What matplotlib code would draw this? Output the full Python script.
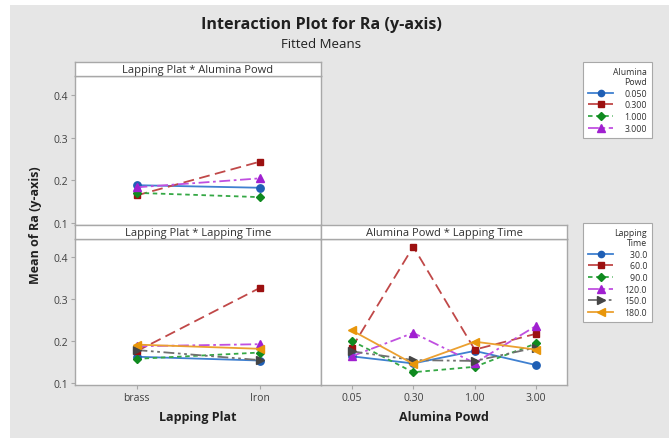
import matplotlib
matplotlib.use("Agg")
import matplotlib.pyplot as plt
from matplotlib.patches import Rectangle
from matplotlib.lines import Line2D

plt.rcParams['font.family'] = ['Open Sans', 'DejaVu Sans']

# ---------------- data ----------------
plat_levels = ["brass", "Iron"]
powd_levels = ["0.05", "0.30", "1.00", "3.00"]
powd_legend = ["0.050", "0.300", "1.000", "3.000"]
time_legend = ["30.0", "60.0", "90.0", "120.0", "150.0", "180.0"]

# Lapping Plat * Alumina Powd  (rows: powd 0.05, 0.3, 1, 3 ; cols: brass, Iron)
plat_powd = [
    [0.188, 0.182],
    [0.164, 0.243],
    [0.170, 0.160],
    [0.183, 0.204],
]
# Lapping Plat * Lapping Time  (rows: time 30..180 ; cols: brass, Iron)
plat_time = [
    [0.162, 0.153],
    [0.175, 0.326],
    [0.157, 0.172],
    [0.187, 0.192],
    [0.178, 0.154],
    [0.191, 0.181],
]
# Alumina Powd * Lapping Time (rows: time 30..180 ; cols: powd 0.05, 0.3, 1, 3)
powd_time = [
    [0.163, 0.146, 0.176, 0.142],
    [0.183, 0.425, 0.179, 0.217],
    [0.200, 0.125, 0.138, 0.194],
    [0.163, 0.219, 0.147, 0.236],
    [0.175, 0.154, 0.152, 0.184],
    [0.225, 0.145, 0.198, 0.179],
]

# ---------------- styles ----------------
mk_colors = ['#1f5fb5', '#9c1010', '#0f8a1f', '#a020d0', '#454545', '#e8960a']
ln_colors = ['#3f80d0', '#c04848', '#35a845', '#c050e0', '#707070', '#eba030']
markers = ['o', 's', 'D', '^', '>', '<']
msizes = [5.3, 5, 4.5, 6, 6, 6]
dashes = [None, (6, 3), (2.5, 2), (6, 2, 1.5, 2), (6, 2, 1.5, 2, 1.5, 2), None]

W, H = 669, 439
fig = plt.figure(figsize=(W / 100, H / 100), dpi=100)
fig.patch.set_facecolor('white')
fig.add_artist(Rectangle((10 / W, 0), 659 / W, 433 / H, transform=fig.transFigure,
                         facecolor='#e6e6e6', edgecolor='none', zorder=-10))

def fbox(x0, y0, x1, y1):
    return [x0 / W, 1 - y1 / H, (x1 - x0) / W, (y1 - y0) / H]

spine_c = '#a8a8a8'
txt_c = '#404040'

def style_ax(ax, left, bottom):
    ax.set_facecolor('white')
    for s in ax.spines.values():
        s.set_color(spine_c)
        s.set_linewidth(1.0)
    ax.set_ylim(0.0945, 0.4445)
    ax.set_yticks([0.1, 0.2, 0.3, 0.4])
    ax.tick_params(axis='both', colors=spine_c, labelcolor=txt_c, labelsize=7.5,
                   length=3, width=0.8, pad=2)
    if not left:
        ax.tick_params(axis='y', left=False, labelleft=False)
    if not bottom:
        ax.tick_params(axis='x', bottom=False, labelbottom=False)

def strip(x0, y0, x1, y1, text):
    sa = fig.add_axes(fbox(x0, y0, x1, y1))
    sa.set_facecolor('white')
    sa.set_xticks([]); sa.set_yticks([])
    for s in sa.spines.values():
        s.set_color(spine_c)
        s.set_linewidth(1.0)
    sa.text(0.5, 0.45, text, ha='center', va='center', fontsize=8, color='#303030',
            transform=sa.transAxes)

def draw_series(ax, xs, ys, i):
    kw = dict(color=ln_colors[i], lw=1.3, marker=markers[i], ms=msizes[i],
              mfc=mk_colors[i], mec=mk_colors[i], zorder=3)
    ln, = ax.plot(xs, ys, **kw)
    if dashes[i] is not None:
        ln.set_dashes(dashes[i])
    return ln

# top-left panel
ax1 = fig.add_axes(fbox(75, 77, 321, 226))
style_ax(ax1, True, False)
ax1.set_xlim(-0.5, 1.5)
xp = list(range(len(plat_levels)))
for i, row in enumerate(plat_powd):
    draw_series(ax1, xp, row, i)
strip(75, 63, 321, 77, "Lapping Plat * Alumina Powd")

# bottom-left panel
ax2 = fig.add_axes(fbox(75, 239.5, 321, 386))
style_ax(ax2, True, True)
ax2.set_xlim(-0.5, 1.5)
ax2.set_xticks(xp)
ax2.set_xticklabels(plat_levels)
for i, row in enumerate(plat_time):
    draw_series(ax2, xp, row, i)
strip(75, 226, 321, 239.5, "Lapping Plat * Lapping Time")
ax2.set_xlabel("Lapping Plat", fontsize=9, fontweight='bold', color='#202020', labelpad=5)

# bottom-right panel
ax3 = fig.add_axes(fbox(321, 239.5, 567, 386))
style_ax(ax3, False, True)
ax3.set_xlim(-0.5, 3.5)
xq = list(range(len(powd_levels)))
ax3.set_xticks(xq)
ax3.set_xticklabels(powd_levels)
for i, row in enumerate(powd_time):
    draw_series(ax3, xq, row, i)
strip(321, 226, 567, 239.5, "Alumina Powd * Lapping Time")
ax3.set_xlabel("Alumina Powd", fontsize=9, fontweight='bold', color='#202020', labelpad=5)

# titles
fig.text(321 / W, 1 - 25 / H, "Interaction Plot for Ra (y-axis)", ha='center', va='center',
         fontsize=11.6, fontweight='bold', color='#202020')
fig.text(321 / W, 1 - 44 / H, "Fitted Means", ha='center', va='center',
         fontsize=9.5, color='#202020')
fig.text(35 / W, 1 - 225 / H, "Mean of Ra (y-axis)", ha='center', va='center',
         rotation=90, fontsize=9, fontweight='bold', color='#202020')

# legends
FS = '\u2007'
def make_legend(n, labels, title, y_top):
    handles = []
    for i in range(n):
        h = Line2D([], [], color=ln_colors[i], lw=1.3, marker=markers[i],
                   ms=msizes[i] * 0.85, mfc=mk_colors[i], mec=mk_colors[i])
        if dashes[i] is not None:
            h.set_dashes(dashes[i])
        handles.append(h)
    width = max(len(l) for l in labels)
    labs = [FS * (width - len(l)) + l for l in labels]
    leg = fig.legend(handles, labs, title=title, loc='upper left',
                     bbox_to_anchor=(583 / W, 1 - y_top / H), fontsize=6.3,
                     title_fontsize=6.3, alignment='right', frameon=True, fancybox=False,
                     edgecolor='#a8a8a8', framealpha=1, handlelength=2.9,
                     handletextpad=1.3, labelspacing=0.3, borderpad=0.55,
                     borderaxespad=0)
    leg.get_frame().set_linewidth(0.8)
    leg.get_title().set_multialignment('right')
    leg.get_title().set_color('#303030')
    for t in leg.get_texts():
        t.set_color('#303030')
    return leg

make_legend(4, powd_legend, "Alumina\nPowd", 63)
make_legend(6, time_legend, "Lapping\nTime", 224)

fig.savefig("out.png", dpi=100)
